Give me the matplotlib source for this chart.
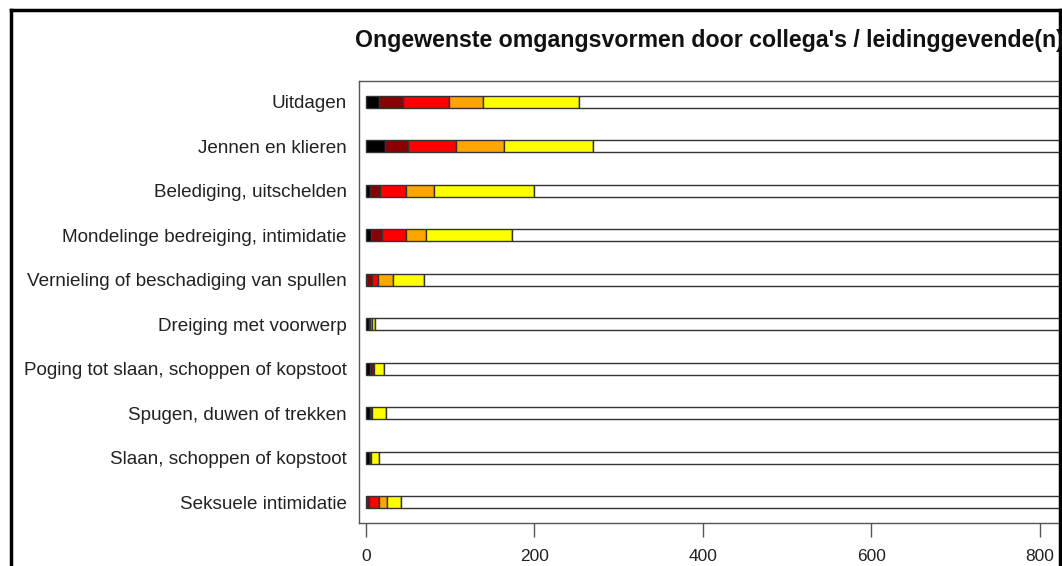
import numpy as np
import matplotlib
matplotlib.use("Agg")
import matplotlib.pyplot as plt
from matplotlib.lines import Line2D

plt.rcParams['font.family'] = ['Liberation Sans', 'DejaVu Sans']

# data, top to bottom
categories = [
    "Uitdagen",
    "Jennen en klieren",
    "Belediging, uitschelden",
    "Mondelinge bedreiging, intimidatie",
    "Vernieling of beschadiging van spullen",
    "Dreiging met voorwerp",
    "Poging tot slaan, schoppen of kopstoot",
    "Spugen, duwen of trekken",
    "Slaan, schoppen of kopstoot",
    "Seksuele intimidatie",
]
zeer_vaak  = [15, 23, 5, 6, 1, 3, 5, 5, 5, 1]
vaak       = [29, 27, 12, 13, 6, 2, 3, 1, 0, 3]
regelmatig = [54, 57, 30, 28, 7, 0, 0, 0, 0, 12]
soms       = [41, 57, 34, 24, 18, 2, 1, 1, 1, 9]
eenmalig   = [114, 105, 118, 102, 37, 4, 12, 17, 10, 16]
n_total = 850
title = "Ongewenste omgangsvormen door collega's / leidinggevende(n)"

series = [zeer_vaak, vaak, regelmatig, soms, eenmalig]
colors = ["#000000", "#8B0000", "#FF0000", "#FFA500", "#FFFF00", "#FFFFFF"]

W, H = 1062, 566
fig = plt.figure(figsize=(W / 100, H / 100), dpi=100)

# axes placed in pixel terms, running off the right edge like the original crop
px_per_unit = 0.8425
x_lo, x_hi = -8.3, 860
left_px, top_px, bottom_px = 359, 81, 523
right_px = left_px + (x_hi - x_lo) * px_per_unit
ax = fig.add_axes([left_px / W, 1 - bottom_px / H,
                   (right_px - left_px) / W, (bottom_px - top_px) / H])

y = np.arange(len(categories))[::-1]
left = np.zeros(len(categories))
for vals, col in zip(series, colors):
    vals = np.array(vals, dtype=float)
    ax.barh(y, vals, left=left, height=0.27, color=col,
            edgecolor="#333333", linewidth=1.0)
    left += vals
rest = n_total - left
ax.barh(y, rest, left=left, height=0.27, color=colors[-1],
        edgecolor="#333333", linewidth=1.0)

ax.set_xlim(x_lo, x_hi)
ax.set_ylim(-0.47, len(categories) - 0.53)
ax.set_yticks(y)
ax.set_yticklabels(categories, fontsize=13.6, color="#222222")
ax.tick_params(axis="y", length=0, pad=9)
ax.set_xticks([0, 200, 400, 600, 800])
ax.tick_params(axis="x", length=10, width=1, color="#555555",
               labelsize=12.5, labelcolor="#222222", pad=9)
for s in ax.spines.values():
    s.set_color("#555555")
    s.set_linewidth(1.0)

fig.text(355 / W, 1 - 41 / H, title, ha="left", va="center",
         fontsize=16.7, fontweight="bold", color="#111111")

# black frame of the cropped picture
frame = dict(color="black", linewidth=2.5, transform=fig.transFigure)
fig.add_artist(Line2D([11 / W, 11 / W], [0, 1 - 10 / H], **frame))
fig.add_artist(Line2D([11 / W, 1060 / W], [1 - 10 / H, 1 - 10 / H], **frame))
fig.add_artist(Line2D([1060 / W, 1060 / W], [0, 1 - 10 / H], **frame))

fig.savefig("out.png", dpi=100)
